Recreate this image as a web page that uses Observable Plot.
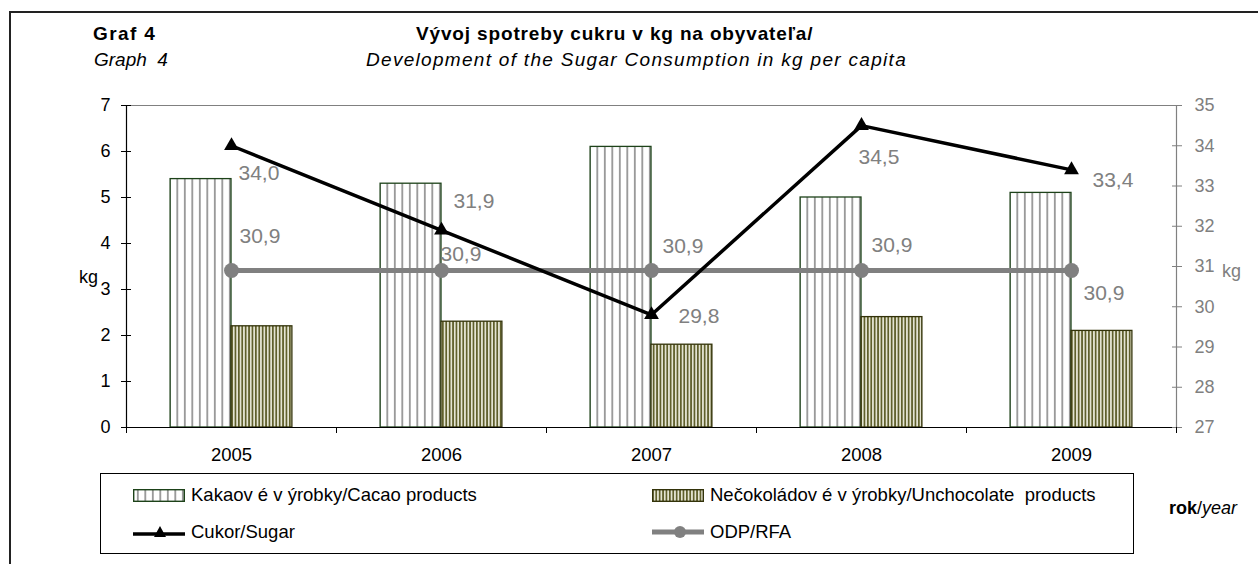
<!DOCTYPE html>
<html>
<head>
<meta charset="utf-8">
<script src="https://cdn.jsdelivr.net/npm/d3@7"></script>
<script src="https://cdn.jsdelivr.net/npm/@observablehq/plot@0.6"></script>
<style>
  html, body { margin: 0; padding: 0; background: #fff; }
  #wrap { position: relative; width: 1258px; height: 564px; overflow: hidden; font-family: "Liberation Sans", Arial, sans-serif; color: #000; }
  .abs { position: absolute; white-space: pre; line-height: 1; }
  #frame { position: absolute; left: 9px; top: 11px; width: 1400px; height: 700px; border-left: 2px solid #222; border-top: 2px solid #222; }
  #chart { position: absolute; left: 0; top: 0; }
  #legend { position: absolute; left: 100px; top: 473px; width: 1032px; height: 79px; border: 1px solid #000; }
  .li { position: absolute; display: flex; align-items: center; font-size: 18.5px; white-space: pre; line-height: 1; }
  .li svg { margin-right: 6px; display: block; }
</style>
</head>
<body>
<div id="wrap">
  <div id="frame"></div>
  <div class="abs" style="left:93px;top:24px;font-size:19px;font-weight:bold;letter-spacing:1.4px;">Graf 4</div>
  <div class="abs" style="left:416px;top:24px;font-size:19px;font-weight:bold;letter-spacing:0.85px;">Vývoj spotreby cukru v kg na obyvateľa/</div>
  <div class="abs" style="left:94px;top:50px;font-size:19px;font-style:italic;">Graph  4</div>
  <div class="abs" style="left:366px;top:50px;font-size:19px;font-style:italic;letter-spacing:1.3px;">Development of the Sugar Consumption in kg per capita</div>
  <div id="chart"></div>
  <div class="abs" style="left:79px;top:268px;font-size:18px;">kg</div>
  <div class="abs" style="left:1222px;top:262px;font-size:18px;color:#808080;">kg</div>
  <div class="abs" style="left:1169px;top:499px;font-size:18px;"><b>rok</b>/<i>year</i></div>
  <div id="legend"></div>
</div>
<script>
// ---- data ----
const years = [2005, 2006, 2007, 2008, 2009];
const cacao = [5.4, 5.3, 6.1, 5.0, 5.1];          // Kakaové výrobky / Cacao products (left axis, kg)
const unchocolate = [2.2, 2.3, 1.8, 2.4, 2.1];    // Nečokoládové výrobky / Unchocolate products (left axis, kg)
const sugar = [34.0, 31.9, 29.8, 34.5, 33.4];     // Cukor / Sugar (right axis, kg)
const rfa = [30.9, 30.9, 30.9, 30.9, 30.9];       // ODP / RFA (right axis, kg)
const leftTicks = [0, 1, 2, 3, 4, 5, 6, 7];
const rightTicks = [27, 28, 29, 30, 31, 32, 33, 34, 35];
const seriesNames = ["Kakaov é v ýrobky/Cacao products", "Nečokoládov é v ýrobky/Unchocolate  products", "Cukor/Sugar", "ODP/RFA"];

// label placement offsets (px) — styling only
const sugarLabelDx = [7, 12, 27, -3, 21];
const sugarLabelDy = [28, -29, 1, 32, 10];
const rfaLabelDx = [8, -1, 11, 10, 12];
const rfaLabelDy = [-34, -16, -24, -25, 23];

// right axis [27,35] mapped onto left axis [0,7]
const L0 = 0, L1 = 7, R0 = 27, R1 = 35;
const toLeft = v => L0 + (v - R0) * (L1 - L0) / (R1 - R0);
const toRight = v => R0 + (v - L0) * (R1 - R0) / (L1 - L0);

const rows = years.map((year, i) => ({year, cacao: cacao[i], unchocolate: unchocolate[i], sugar: sugar[i], rfa: rfa[i]}));
const bounds = [years[0] - 0.5, ...years.map(y => y + 0.5)];
const half = 0.29; // bar width in category units
const fmt = v => v.toFixed(1).replace(".", ",");
const font = "'Liberation Sans', Arial, sans-serif";
const grey = "#808080";

const labelMarks = [];
rows.forEach((d, i) => {
  labelMarks.push(Plot.text([d], {x: "year", y: r => toLeft(r.sugar), text: r => fmt(r.sugar), dx: sugarLabelDx[i], dy: sugarLabelDy[i], textAnchor: "start", fill: grey, fontSize: 21}));
  labelMarks.push(Plot.text([d], {x: "year", y: r => toLeft(r.rfa), text: r => fmt(r.rfa), dx: rfaLabelDx[i], dy: rfaLabelDy[i], textAnchor: "start", fill: grey, fontSize: 21}));
});

const chart = Plot.plot({
  width: 1258,
  height: 470,
  marginTop: 105,
  marginBottom: 43,
  marginLeft: 126,
  marginRight: 82,
  x: {type: "linear", domain: [bounds[0], bounds[bounds.length - 1]], label: null},
  y: {domain: [L0, L1], label: null},
  style: {fontFamily: font, background: "transparent", overflow: "visible", color: "#000"},
  marks: [
    Plot.ruleY([L1], {stroke: grey, strokeWidth: 1.2}),
    Plot.rectY(rows, {x1: d => d.year - half, x2: "year", y: "cacao", fill: "url(#patCacao)", stroke: "#1d4219", strokeWidth: 1.3}),
    Plot.rectY(rows, {x1: "year", x2: d => d.year + half, y: "unchocolate", fill: "url(#patUnchoc)", stroke: "#33330a", strokeWidth: 1.3}),
    Plot.ruleY([L0], {stroke: "#000", strokeWidth: 1.2}),
    Plot.ruleX([bounds[0]], {stroke: "#000", strokeWidth: 1.2}),
    Plot.ruleX([bounds[bounds.length - 1]], {stroke: grey, strokeWidth: 1.2}),
    // left axis
    Plot.axisY(leftTicks, {anchor: "left", label: null, tickSize: 10, dx: 5, tickFormat: () => "", stroke: "#000"}),
    Plot.axisY(leftTicks, {anchor: "left", label: null, tickSize: 0, tickPadding: 16, fontSize: 18, fill: "#000"}),
    // right axis
    Plot.axisY(rightTicks.map(toLeft), {anchor: "right", label: null, tickSize: 10, dx: -5, tickFormat: () => "", stroke: grey}),
    Plot.axisY(rightTicks.map(toLeft), {anchor: "right", label: null, tickSize: 0, tickPadding: 16, dx: 2, fontSize: 18, fill: grey, tickFormat: v => String(Math.round(toRight(v)))}),
    // x axis
    Plot.axisX(bounds, {anchor: "bottom", label: null, tickSize: 6, tickFormat: () => "", stroke: "#000"}),
    Plot.axisX(years, {anchor: "bottom", label: null, tickSize: 0, tickPadding: 20, fontSize: 18.5, fill: "#000", tickFormat: d => String(d)}),
    // lines
    Plot.line(rows, {x: "year", y: d => toLeft(d.rfa), stroke: grey, strokeWidth: 5}),
    Plot.dot(rows, {x: "year", y: d => toLeft(d.rfa), r: 7.5, fill: grey, stroke: "none"}),
    Plot.line(rows, {x: "year", y: d => toLeft(d.sugar), stroke: "#000", strokeWidth: 3.5}),
    Plot.dot(rows, {x: "year", y: d => toLeft(d.sugar), r: 5.5, symbol: "triangle", fill: "#000", stroke: "none"}),
    ...labelMarks
  ]
});

// patterns
const ns = "http://www.w3.org/2000/svg";
const defs = document.createElementNS(ns, "defs");
defs.innerHTML = `
  <pattern id="patCacao" patternUnits="userSpaceOnUse" width="7.5" height="10" x="2">
    <rect width="7.5" height="10" fill="#fff"/>
    <rect x="2" width="1.6" height="10" fill="#8a8a8a"/>
  </pattern>
  <pattern id="patUnchoc" patternUnits="userSpaceOnUse" width="3.4" height="10">
    <rect width="3.4" height="10" fill="#e4e4d2"/>
    <rect x="0" width="1.7" height="10" fill="#60602c"/>
  </pattern>`;
chart.insertBefore(defs, chart.firstChild);
document.getElementById("chart").appendChild(chart);

// legend
const legend = document.getElementById("legend");
function swatch(kind) {
  if (kind === 0) return `<svg width="52" height="13"><rect x="0.7" y="0.7" width="50.6" height="11.6" fill="url(#patCacao)" stroke="#1d4219" stroke-width="1.4"/></svg>`;
  if (kind === 1) return `<svg width="52" height="13"><rect x="0.7" y="0.7" width="50.6" height="11.6" fill="url(#patUnchoc)" stroke="#33330a" stroke-width="1.4"/></svg>`;
  if (kind === 2) return `<svg width="52" height="16"><line x1="0" y1="10" x2="52" y2="10" stroke="#000" stroke-width="3.5"/><path d="M27,2 L33,13 L21,13 Z" fill="#000"/></svg>`;
  return `<svg width="52" height="16"><line x1="0" y1="8" x2="52" y2="8" stroke="${grey}" stroke-width="5"/><circle cx="28" cy="8" r="6" fill="${grey}"/></svg>`;
}
const pos = [[32, 12], [551, 12], [32, 49], [551, 49]];
seriesNames.forEach((name, i) => {
  const el = document.createElement("div");
  el.className = "li";
  el.style.left = pos[i][0] + "px";
  el.style.top = pos[i][1] + "px";
  el.innerHTML = swatch(i) + `<span>${name}</span>`;
  legend.appendChild(el);
});
</script>
</body>
</html>
